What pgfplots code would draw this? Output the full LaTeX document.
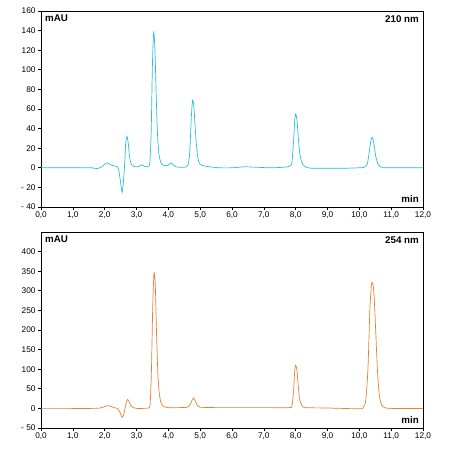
\documentclass[border=0pt]{standalone}
\usepackage{pgfplots}
\pgfplotsset{compat=1.18}
\usepackage{fontspec}
\setmainfont{Liberation Sans}
\definecolor{cyanline}{RGB}{40,190,215}
\definecolor{orangeline}{RGB}{232,128,48}
\tikzset{lbl/.style={font=\bfseries\fontsize{9.8}{10}\selectfont, inner xsep=4bp, inner ysep=4bp}}
\pgfplotsset{
  chrom/.style={
    scale only axis, width=382bp, height=196bp,
    xmin=0, xmax=12,
    xtick={0,1,...,12},
    xticklabels={{0,0},{1,0},{2,0},{3,0},{4,0},{5,0},{6,0},{7,0},{8,0},{9,0},{10,0},{11,0},{12,0}},
    tick align=outside, tick pos=left,
    major tick length=3bp,
    axis line style={black, line width=0.6pt},
    tick style={black, line width=0.6pt},
    tick label style={font=\fontsize{8.3}{9}\selectfont},
    /pgf/number format/assume math mode=true,
    xticklabel style={yshift=1.5bp},
    yticklabel style={xshift=1bp},
    clip=true,
  }
}
\begin{document}
\begin{tikzpicture}[x=1bp,y=1bp]
\path[use as bounding box] (0,0) rectangle (450,470);
\begin{axis}[chrom, at={(41bp,263bp)}, anchor=south west,
  ymin=-40, ymax=160, ytick={-40,-20,...,160},
  yticklabels={{- 40},{- 20},0,20,40,60,80,100,120,140,160}]
\addplot[cyanline, line width=0.7pt, smooth, tension=0.4] coordinates {
(0,0) (0.8,0) (1.6,0) (1.7,-1) (1.8,-0.5) (1.9,1) (2.0,3.5) (2.08,5) (2.15,4) (2.22,2.5) (2.3,2) (2.38,1.5)
(2.44,-2) (2.5,-15) (2.55,-25) (2.59,-14) (2.63,5) (2.66,25) (2.7,32) (2.74,25) (2.78,12) (2.82,5) (2.88,2)
(2.95,1) (3.05,1) (3.15,3) (3.22,2) (3.3,1) (3.38,1.5) (3.42,6) (3.46,35) (3.5,105) (3.54,138) (3.58,120)
(3.62,72) (3.66,34) (3.7,15) (3.75,7) (3.8,3.5) (3.9,2) (4.0,2.5) (4.08,5) (4.15,3) (4.25,1) (4.4,0.5)
(4.55,0.8) (4.62,3) (4.67,15) (4.72,50) (4.76,69) (4.8,63) (4.85,38) (4.9,17) (4.95,7) (5.0,3.5) (5.1,2)
(5.3,1) (5.6,0) (6.0,0) (6.4,1) (6.8,0.5) (7.2,0) (7.6,0.5) (7.8,1.5) (7.88,5) (7.93,25) (7.97,48) (8.0,55)
(8.04,49) (8.08,32) (8.13,14) (8.2,5) (8.3,1) (8.5,-0.5) (9.0,-0.5) (9.5,-0.5) (10.0,0) (10.15,0.5)
(10.25,4) (10.32,18) (10.37,29) (10.41,31) (10.46,24) (10.52,11) (10.6,3) (10.7,0.5) (10.8,0) (11.5,0) (12,0)
};
\node[lbl, anchor=north west] at (rel axis cs:0,1) {mAU};
\node[lbl, anchor=north east] at (rel axis cs:1,1) {210 nm};
\node[lbl, anchor=south east] at (rel axis cs:1,0) {min};
\end{axis}
\begin{axis}[chrom, at={(41bp,42bp)}, anchor=south west,
  ymin=-50, ymax=450, ytick={-50,0,...,400},
  yticklabels={{- 50},0,50,100,150,200,250,300,350,400}]
\addplot[orangeline, line width=0.7pt, smooth, tension=0.4] coordinates {
(0,0) (0.8,0) (1.6,0) (1.8,0.5) (1.95,3) (2.05,6) (2.12,7) (2.2,5) (2.3,2) (2.4,0) (2.48,-10) (2.55,-23)
(2.6,-15) (2.64,0) (2.68,15) (2.72,23) (2.76,18) (2.82,8) (2.9,2) (3.0,0) (3.2,0) (3.38,1) (3.43,12)
(3.47,100) (3.51,260) (3.55,346) (3.59,315) (3.63,190) (3.67,90) (3.72,35) (3.78,12) (3.85,5) (4.0,2)
(4.3,2) (4.6,3) (4.7,12) (4.76,24) (4.8,26) (4.85,18) (4.92,7) (5.0,3) (5.5,2) (7.0,2) (7.8,2) (7.88,6)
(7.93,40) (7.97,95) (8.0,110) (8.04,97) (8.08,58) (8.13,22) (8.2,7) (8.3,2) (9.0,1) (10.0,-1) (10.12,2)
(10.2,20) (10.27,100) (10.33,250) (10.38,315) (10.42,320) (10.46,292) (10.51,205) (10.57,95) (10.63,32)
(10.7,9) (10.8,2) (11.0,0) (12,0)
};
\node[lbl, anchor=north west] at (rel axis cs:0,1) {mAU};
\node[lbl, anchor=north east] at (rel axis cs:1,1) {254 nm};
\node[lbl, anchor=south east] at (rel axis cs:1,0) {min};
\end{axis}
\end{tikzpicture}
\end{document}
